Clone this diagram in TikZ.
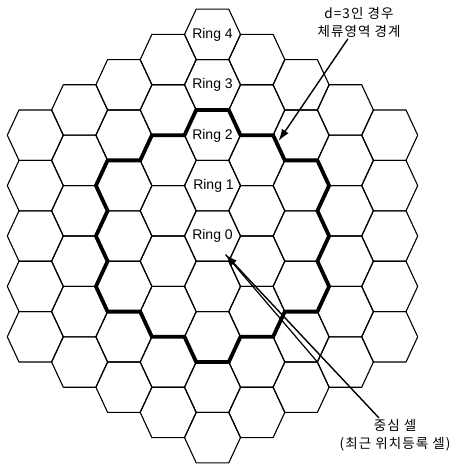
\documentclass[tikz,border=0pt]{standalone}
\usepackage{fontspec}
\setmainfont{Liberation Sans}
\newfontfamily\krfont[LetterSpace=8]{Noto Sans CJK KR}
\usetikzlibrary{arrows.meta}
\begin{document}
\begin{tikzpicture}[x=1pt,y=-1pt,
  cell/.style={line width=1.1pt, line join=round},
  bound/.style={line width=3.8pt, line join=miter},
  ringlabel/.style={font=\fontsize{14}{16}\selectfont, inner sep=0pt},
  note/.style={font=\krfont\fontsize{13.5}{18}\selectfont, align=center, inner sep=1pt},
  pointer/.style={line width=1.4pt, -{Latex[length=12pt,width=8pt]}},
  stray/.style={line width=1.2pt}]
\useasboundingbox (0,0) rectangle (461,465);
\def\A{28}\def\B{16.3}\def\H{25.2}\def\S{44.3}
% hexagonal grid, rings 0..4
\foreach \q in {-4,...,4} {
  \foreach \r in {-4,...,4} {
    \pgfmathtruncatemacro\ok{abs(\q+\r)<=4}
    \ifnum\ok=1
      \pgfmathsetmacro\cx{212.5+\S*\q}
      \pgfmathsetmacro\cy{236+\H*(2*\r+\q)}
      \draw[cell] (\cx+\A,\cy) -- (\cx+\B,\cy-\H) -- (\cx-\B,\cy-\H)
        -- (\cx-\A,\cy) -- (\cx-\B,\cy+\H) -- (\cx+\B,\cy+\H) -- cycle;
    \fi
  }
}
% boundary of the region for d=3
\draw[bound] (196.2,110) -- (184.5,135.2) -- (151.9,135.2) -- (140.2,160.4)
  -- (107.6,160.4) -- (95.9,185.6) -- (107.6,210.8) -- (95.9,236)
  -- (107.6,261.2) -- (95.9,286.4) -- (107.6,311.6) -- (140.2,311.6)
  -- (151.9,336.8) -- (184.5,336.8) -- (196.2,362) -- (228.8,362)
  -- (240.5,336.8) -- (273.1,336.8) -- (284.8,311.6) -- (317.4,311.6)
  -- (329.1,286.4) -- (317.4,261.2) -- (329.1,236) -- (317.4,210.8)
  -- (329.1,185.6) -- (317.4,160.4) -- (284.8,160.4) -- (273.1,135.2)
  -- (240.5,135.2) -- (228.8,110) -- cycle;
% ring labels
\node[ringlabel] (ring4) at (212.5,34.6) {Ring 4};
\node[ringlabel] (ring3) at (212.5,85) {Ring 3};
\node[ringlabel] (ring2) at (212.5,135.4) {Ring 2};
\node[ringlabel] (ring1) at (213.5,185.8) {Ring 1};
\node[ringlabel] (ring0) at (212.5,236.2) {Ring 0};
% notes
\node[note] (noteB) at (359,22.5) {d=3인 경우\\체류영역 경계};
\node[note] (noteC) at (395,435) {중심 셀\\(최근 위치등록 셀)};
\coordinate (tipB) at (278.5,141);
\coordinate (tipC) at (225.5,254.5);
\coordinate (strayEnd) at (317.4,362);
\draw[pointer] (noteB) -- (tipB);
\draw[pointer] (noteC) -- (tipC);
\draw[stray] (tipC) -- (strayEnd);
\end{tikzpicture}
\end{document}
